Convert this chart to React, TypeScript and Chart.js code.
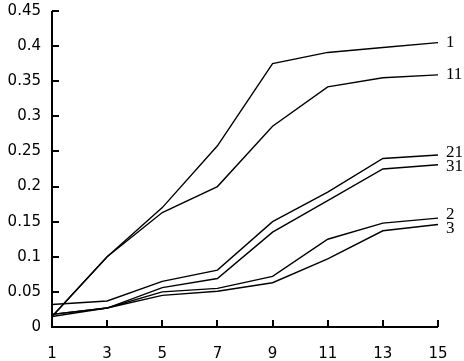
import React, { useEffect, useRef } from "react";
import { Chart, registerables } from "chart.js";

Chart.register(...registerables);

const categories = ["1", "3", "5", "7", "9", "11", "13", "15"];
const s1 = [0.015, 0.1, 0.17, 0.258, 0.375, 0.391, 0.398, 0.405];
const s11 = [0.015, 0.1, 0.163, 0.2, 0.286, 0.342, 0.355, 0.359];
const s21 = [0.032, 0.037, 0.065, 0.081, 0.15, 0.192, 0.24, 0.245];
const s31 = [0.018, 0.027, 0.056, 0.069, 0.135, 0.18, 0.225, 0.231];
const s2 = [0.018, 0.027, 0.05, 0.055, 0.072, 0.125, 0.148, 0.155];
const s3 = [0.015, 0.027, 0.045, 0.051, 0.063, 0.097, 0.137, 0.146];
const seriesNames = ["1", "11", "21", "31", "2", "3"];
const seriesData = [s1, s11, s21, s31, s2, s3];
const yTicks = [0, 0.05, 0.1, 0.15, 0.2, 0.25, 0.3, 0.35, 0.4, 0.45];

const axesPlugin = {
  id: "customAxes",
  afterDraw(chart: any) {
    const { ctx, chartArea } = chart;
    const xs = chart.scales.x;
    const ys = chart.scales.y;
    ctx.save();
    ctx.strokeStyle = "#000";
    ctx.lineWidth = 2;
    ctx.beginPath();
    const x0 = xs.getPixelForValue(0);
    const xEnd = xs.getPixelForValue(categories.length - 1);
    const y0 = ys.getPixelForValue(0);
    const yTop = ys.getPixelForValue(yTicks[yTicks.length - 1]);
    ctx.moveTo(x0, yTop);
    ctx.lineTo(x0, y0);
    ctx.lineTo(xEnd, y0);
    for (const t of yTicks) {
      const y = Math.round(ys.getPixelForValue(t));
      ctx.moveTo(x0, y);
      ctx.lineTo(x0 + 7, y);
    }
    for (let i = 1; i < categories.length; i++) {
      const x = Math.round(xs.getPixelForValue(i));
      ctx.moveTo(x, y0);
      ctx.lineTo(x, y0 - 7);
    }
    ctx.stroke();

    // series labels at right end, pushed apart to avoid overlap
    const items = chart.data.datasets.map((ds: any, i: number) => {
      const meta = chart.getDatasetMeta(i);
      const pt = meta.data[meta.data.length - 1];
      return { label: ds.label, y: pt.y };
    });
    items.sort((a: any, b: any) => a.y - b.y);
    const minGap = 14;
    for (let iter = 0; iter < 20; iter++) {
      for (let i = 0; i < items.length - 1; i++) {
        const a = items[i], b = items[i + 1];
        const d = b.y - a.y;
        if (d < minGap) {
          const push = (minGap - d) / 2;
          a.y -= push;
          b.y += push;
        }
      }
    }
    ctx.fillStyle = "#000";
    ctx.font = "17px 'Liberation Serif', 'DejaVu Serif', serif";
    ctx.textAlign = "left";
    ctx.textBaseline = "middle";
    for (const it of items) {
      ctx.fillText(it.label, chartArea.right + 8, it.y);
    }
    ctx.restore();
  },
};

export default function App() {
  const ref = useRef<HTMLCanvasElement>(null);
  useEffect(() => {
    const chart = new Chart(ref.current as HTMLCanvasElement, {
      type: "line",
      data: {
        labels: categories,
        datasets: seriesData.map((d, i) => ({
          label: seriesNames[i],
          data: d,
          borderColor: "#000",
          backgroundColor: "#000",
          borderWidth: 1.4,
          pointRadius: 0,
          tension: 0,
          fill: false,
        })),
      },
      options: {
        animation: false,
        responsive: true,
        maintainAspectRatio: false,
        layout: { padding: { left: 0, right: 26, top: 11, bottom: 0 } },
        plugins: { legend: { display: false }, tooltip: { enabled: false } },
        scales: {
          x: {
            type: "category",
            offset: false,
            grid: { display: false, drawTicks: false },
            border: { display: false },
            ticks: {
              color: "#000",
              padding: 18,
              maxRotation: 0,
              autoSkip: false,
              font: { family: "'DejaVu Sans', sans-serif", size: 15 },
            },
            afterFit: (s: any) => {
              s.height = 34;
              s.paddingLeft = 0;
              s.paddingRight = 0;
            },
          },
          y: {
            min: 0,
            max: 0.45,
            grid: { display: false, drawTicks: false },
            border: { display: false },
            ticks: {
              stepSize: 0.05,
              color: "#000",
              padding: 11,
              font: { family: "'DejaVu Sans', sans-serif", size: 15 },
              callback: (v: any) => String(Number(Number(v).toFixed(2))),
            },
            afterFit: (s: any) => {
              s.width = 52;
              s.paddingTop = 0;
              s.paddingBottom = 0;
            },
          },
        },
      },
      plugins: [axesPlugin],
    });
    return () => chart.destroy();
  }, []);
  return (
    <div style={{ position: "fixed", left: 0, top: 0, width: 464, height: 361, background: "#fff" }}>
      <canvas ref={ref} />
    </div>
  );
}
